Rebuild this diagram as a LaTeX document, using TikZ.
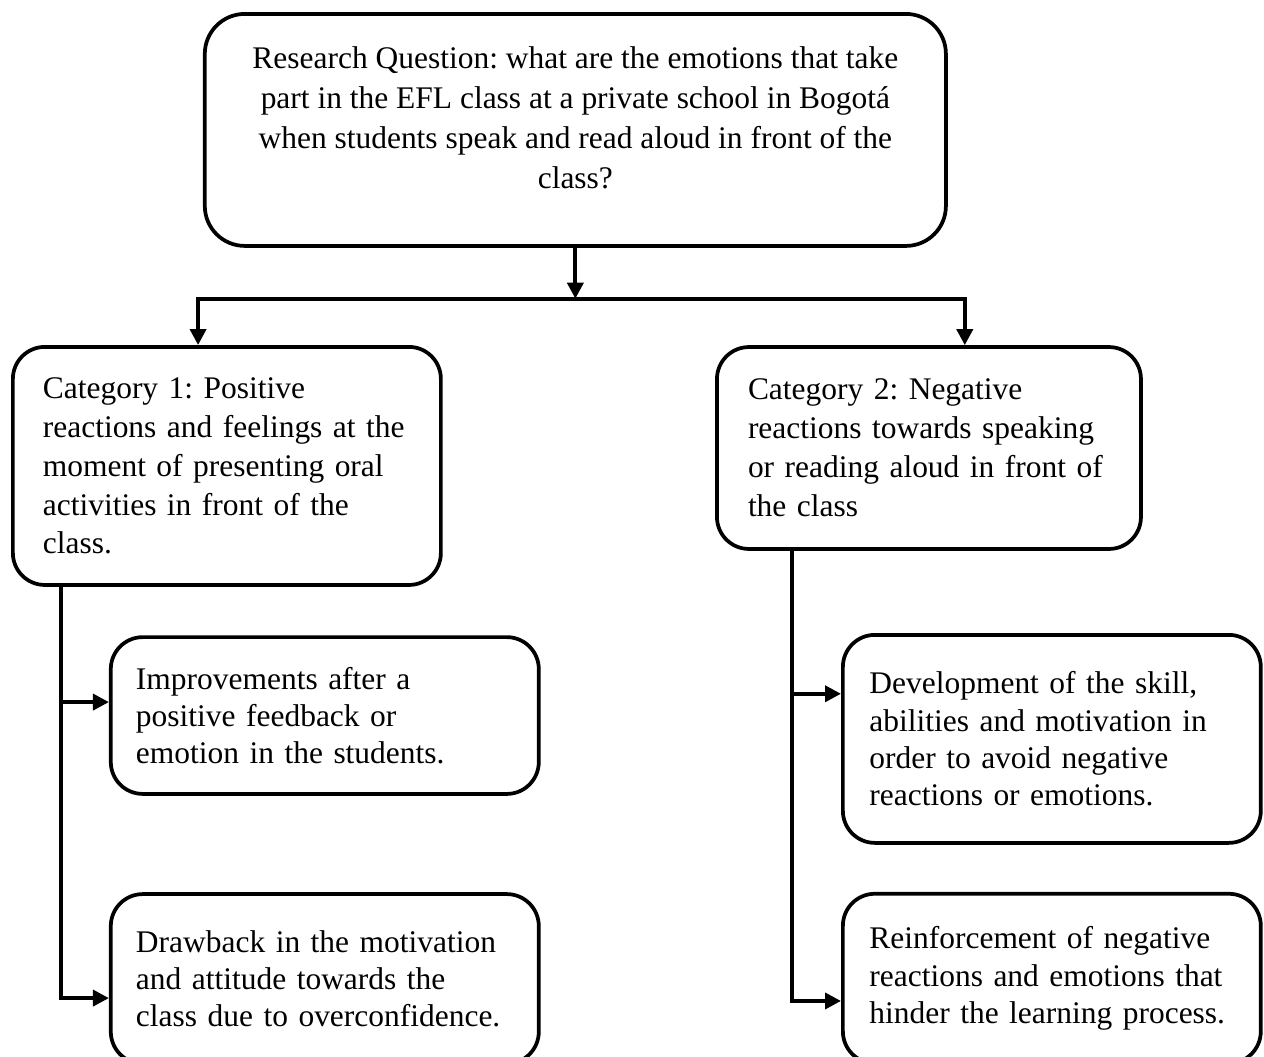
\documentclass[tikz,border=0pt,12pt]{standalone}
\usepackage{fontspec}
\setmainfont{Liberation Serif}
\usetikzlibrary{arrows.meta}
\frenchspacing
\hyphenpenalty=10000

\begin{document}
\begin{tikzpicture}
\begin{scope}
\tikzstyle{box} = [rectangle,draw,line width=1.4pt,rounded corners=12pt,inner sep=0pt,align=left]
\tikzstyle{catbox} = [box,font=\fontsize{11.8}{14.6}\selectfont]
\tikzstyle{subbox} = [box,minimum width=13.375em,font=\fontsize{11.8}{14}\selectfont]
\tikzstyle{link} = [->,line width=1.4pt,>={Triangle[length=6pt,width=6pt]}]

\node [box,rounded corners=15pt,minimum width=23.16em,minimum height=7.25em,align=center,font=\fontsize{11.8}{15}\selectfont] (question) at (0,0) {Research Question: what are the emotions that take\\part in the EFL class at a private school in Bogotá\\when students speak and read aloud in front of the\\class?\rule[-9pt]{0pt}{9pt}};

%categories
\node [catbox,minimum width=13.375em,minimum height=7.44em,text width=11.5em] (cat1) at ([xshift=-10.89em,yshift=-10.5em]question.center) {Category 1: Positive\\reactions and feelings at the\\moment of presenting oral\\activities in front of the\\class.};
\node [catbox,minimum width=13.25em,minimum height=6.31em,text width=11.31em] (cat2) at ([xshift=11.05em,yshift=-9.94em]question.center) {Category 2: Negative\\reactions towards speaking\\or reading aloud in front of\\the class};

%category 1
\node [subbox,minimum height=4.9em,text width=11.8em] (improve) at ([xshift=3.06em,yshift=-7.8em]cat1.center) {Improvements after a\\positive feedback or\\emotion in the students.};
\node [subbox,minimum height=5.3em,text width=11.8em] (drawback) at ([yshift=-8.23em]improve.center) {Drawback in the motivation\\and attitude towards the\\class due to overconfidence.};

%category 2
\node [subbox,minimum width=13.06em,minimum height=6.5em,text width=11.4em] (develop) at ([xshift=3.84em,yshift=-9.09em]cat2.center) {Development of the skill,\\abilities and motivation in\\order to avoid negative\\reactions or emotions.};
\node [subbox,minimum width=13.06em,minimum height=5.3em,text width=11.4em] (reinforce) at ([yshift=-7.49em]develop.center) {Reinforcement of negative\\reactions and emotions that\\hinder the learning process.};

\coordinate (split) at ([yshift=-1.59em]question.south);
\draw [link] (question.south) -- (split);
\draw [link] (split) -| ([xshift=-0.9em]cat1.north);
\draw [link] (split) -| ([xshift=1.12em]cat2.north);

\draw [link] ([xshift=-5.19em]cat1.south) |- ([yshift=0.42em]improve.west);
\draw [link] ([xshift=-5.19em]cat1.south) |- ([yshift=-0.6em]drawback.west);

\draw [link] ([xshift=-4.28em]cat2.south) |- ([yshift=1.41em]develop.west);
\draw [link] ([xshift=-4.28em]cat2.south) |- ([yshift=-0.7em]reinforce.west);

\pgfresetboundingbox
\useasboundingbox ([xshift=-17.98em,yshift=4.06em]question.center) rectangle ([xshift=21.52em,yshift=-28.97em]question.center);
\end{scope}
\end{tikzpicture}
\end{document}
